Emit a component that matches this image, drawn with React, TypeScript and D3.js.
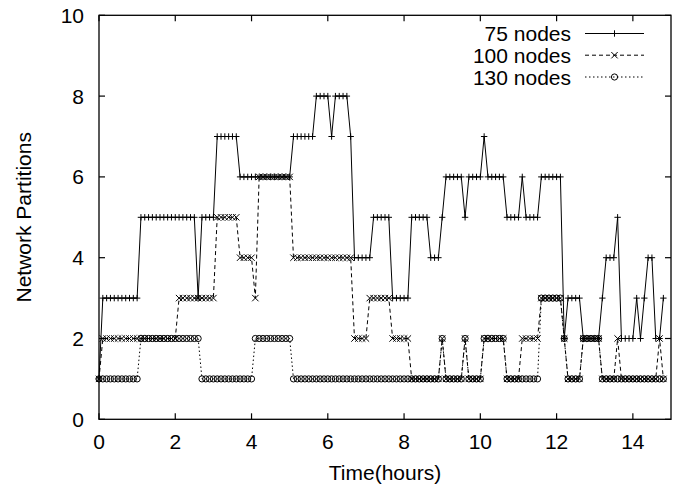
import React from 'react';
import * as d3 from 'd3';

// ---- data ----
const xTicks = [0, 2, 4, 6, 8, 10, 12, 14];
const yTicks = [0, 2, 4, 6, 8, 10];
const seriesNames = ['75 nodes', '100 nodes', '130 nodes'];
const sampleStepHours = 0.1;

const nodes75 = [
  1, 3, 3, 3, 3, 3, 3, 3, 3, 3,
  3, 5, 5, 5, 5, 5, 5, 5, 5, 5,
  5, 5, 5, 5, 5, 5, 3, 5, 5, 5,
  5, 7, 7, 7, 7, 7, 7, 6, 6, 6,
  6, 6, 6, 6, 6, 6, 6, 6, 6, 6,
  6, 7, 7, 7, 7, 7, 7, 8, 8, 8,
  8, 7, 8, 8, 8, 8, 7, 4, 4, 4,
  4, 4, 5, 5, 5, 5, 5, 3, 3, 3,
  3, 3, 5, 5, 5, 5, 5, 4, 4, 4,
  5, 6, 6, 6, 6, 6, 5, 6, 6, 6,
  6, 7, 6, 6, 6, 6, 6, 5, 5, 5,
  5, 6, 5, 5, 5, 5, 6, 6, 6, 6,
  6, 6, 2, 3, 3, 3, 3, 2, 2, 2,
  2, 2, 3, 4, 4, 4, 5, 2, 2, 2,
  2, 3, 2, 3, 4, 4, 2, 2, 3,
];

const nodes100 = [
  1, 2, 2, 2, 2, 2, 2, 2, 2, 2,
  2, 2, 2, 2, 2, 2, 2, 2, 2, 2,
  2, 3, 3, 3, 3, 3, 3, 3, 3, 3,
  3, 5, 5, 5, 5, 5, 5, 4, 4, 4,
  4, 3, 6, 6, 6, 6, 6, 6, 6, 6,
  6, 4, 4, 4, 4, 4, 4, 4, 4, 4,
  4, 4, 4, 4, 4, 4, 4, 2, 2, 2,
  2, 3, 3, 3, 3, 3, 3, 2, 2, 2,
  2, 2, 1, 1, 1, 1, 1, 1, 1, 1,
  2, 1, 1, 1, 1, 1, 2, 1, 1, 1,
  1, 2, 2, 2, 2, 2, 2, 1, 1, 1,
  1, 2, 2, 2, 2, 2, 3, 3, 3, 3,
  3, 3, 2, 1, 1, 1, 1, 2, 2, 2,
  2, 2, 1, 1, 1, 1, 2, 1, 1, 1,
  1, 1, 1, 1, 1, 1, 1, 2, 1,
];

const nodes130 = [
  1, 1, 1, 1, 1, 1, 1, 1, 1, 1,
  1, 2, 2, 2, 2, 2, 2, 2, 2, 2,
  2, 2, 2, 2, 2, 2, 2, 1, 1, 1,
  1, 1, 1, 1, 1, 1, 1, 1, 1, 1,
  1, 2, 2, 2, 2, 2, 2, 2, 2, 2,
  2, 1, 1, 1, 1, 1, 1, 1, 1, 1,
  1, 1, 1, 1, 1, 1, 1, 1, 1, 1,
  1, 1, 1, 1, 1, 1, 1, 1, 1, 1,
  1, 1, 1, 1, 1, 1, 1, 1, 1, 1,
  2, 1, 1, 1, 1, 1, 2, 1, 1, 1,
  1, 2, 2, 2, 2, 2, 2, 1, 1, 1,
  1, 1, 1, 1, 1, 1, 3, 3, 3, 3,
  3, 3, 2, 1, 1, 1, 1, 2, 2, 2,
  2, 2, 1, 1, 1, 1, 1, 1, 1, 1,
  1, 1, 1, 1, 1, 1, 1, 1, 1,
];

const FONT = '"Liberation Sans", Arial, Helvetica, sans-serif';

type MarkerKind = 'plus' | 'cross' | 'circle';

function Marker({ kind, cx, cy }: { kind: MarkerKind; cx: number; cy: number }) {
  const s = 3.2;
  if (kind === 'plus') {
    return <path d={`M${cx - s},${cy}H${cx + s}M${cx},${cy - s}V${cy + s}`} stroke="#000" strokeWidth={1} fill="none" />;
  }
  if (kind === 'cross') {
    return <path d={`M${cx - s},${cy - s}L${cx + s},${cy + s}M${cx - s},${cy + s}L${cx + s},${cy - s}`} stroke="#000" strokeWidth={1} fill="none" />;
  }
  return <circle cx={cx} cy={cy} r={3.1} stroke="#000" strokeWidth={1} fill="none" />;
}

export default function App() {
  const width = 682;
  const height = 486;
  const left = 99, right = 671, top = 15.3, bottom = 419.3;

  const x = d3.scaleLinear().domain([0, 15]).range([left, right]);
  const y = d3.scaleLinear().domain([0, 10]).range([bottom, top]);

  const series: { name: string; values: number[]; dash: string | undefined; marker: MarkerKind }[] = [
    { name: seriesNames[0], values: nodes75, dash: undefined, marker: 'plus' },
    { name: seriesNames[1], values: nodes100, dash: '4,3', marker: 'cross' },
    { name: seriesNames[2], values: nodes130, dash: '1.5,2.5', marker: 'circle' },
  ];

  const lineGen = d3
    .line<number>()
    .x((_, i) => x(i * sampleStepHours))
    .y((d) => y(d));

  const tickLen = 6;
  const legendTextX = 571;
  const legendLineX0 = 585;
  const legendLineX1 = 644;
  const legendRowY = [33.5, 55.2, 77];

  return (
    <div style={{ position: 'fixed', left: 0, top: 0, width, height, background: '#fff' }}>
      <svg width={width} height={height} style={{ display: 'block' }} fontFamily={FONT}>
        <rect x={0} y={0} width={width} height={height} fill="#fff" />

        {/* data lines */}
        {series.map((s) => (
          <g key={s.name}>
            <path d={lineGen(s.values) || ''} fill="none" stroke="#000" strokeWidth={1} strokeDasharray={s.dash} />
            {s.values.map((v, i) => (
              <Marker key={i} kind={s.marker} cx={x(i * sampleStepHours)} cy={y(v)} />
            ))}
          </g>
        ))}

        {/* ticks */}
        {xTicks.map((t) => (
          <g key={'xt' + t}>
            <line x1={x(t)} x2={x(t)} y1={bottom} y2={bottom - tickLen} stroke="#000" strokeWidth={1.2} />
            <line x1={x(t)} x2={x(t)} y1={top} y2={top + tickLen} stroke="#000" strokeWidth={1.2} />
            <text x={x(t)} y={449} textAnchor="middle" fontSize={21} fill="#000">{t}</text>
          </g>
        ))}
        {yTicks.map((t) => (
          <g key={'yt' + t}>
            <line x1={left} x2={left + tickLen} y1={y(t)} y2={y(t)} stroke="#000" strokeWidth={1.2} />
            <line x1={right} x2={right - tickLen} y1={y(t)} y2={y(t)} stroke="#000" strokeWidth={1.2} />
            <text x={84} y={y(t)} dy="0.36em" textAnchor="end" fontSize={21} fill="#000">{t}</text>
          </g>
        ))}

        {/* frame */}
        <rect x={left} y={top} width={right - left} height={bottom - top} fill="none" stroke="#000" strokeWidth={1.3} />

        {/* axis titles */}
        <text x={(left + right) / 2} y={480} textAnchor="middle" fontSize={21} fill="#000">Time(hours)</text>
        <text transform={`translate(31,${(top + bottom) / 2}) rotate(-90)`} textAnchor="middle" fontSize={21} fill="#000">Network Partitions</text>

        {/* legend */}
        {series.map((s, k) => (
          <g key={'lg' + s.name}>
            <text x={legendTextX} y={legendRowY[k]} dy="0.36em" textAnchor="end" fontSize={21} fill="#000">{s.name}</text>
            <line x1={legendLineX0} x2={legendLineX1} y1={legendRowY[k]} y2={legendRowY[k]} stroke="#000" strokeWidth={1} strokeDasharray={s.dash} />
            <Marker kind={s.marker} cx={(legendLineX0 + legendLineX1) / 2} cy={legendRowY[k]} />
          </g>
        ))}
      </svg>
    </div>
  );
}
